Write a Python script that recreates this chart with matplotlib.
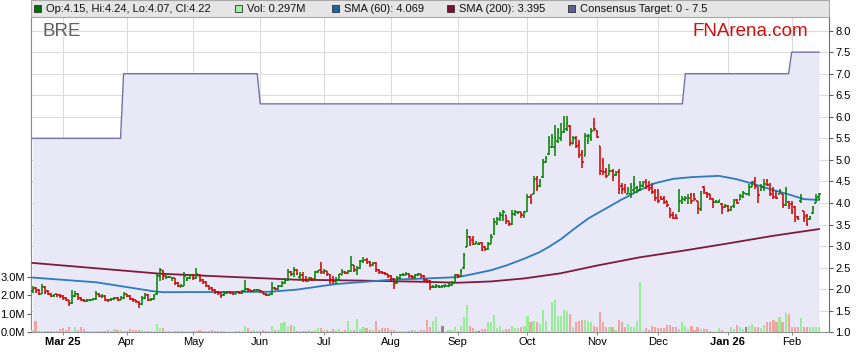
import numpy as np
import matplotlib.pyplot as plt
from matplotlib.patches import Rectangle

plt.rcParams['font.family'] = ['Liberation Sans', 'DejaVu Sans']

# daily bars, Feb 2025 - Feb 2026 (one entry per trading day)
opens = [
    1.95, 2.02, 1.98, 1.90, 2.05, 1.95, 1.90, 1.85, 1.88, 1.86,
    1.84, 1.80, 1.74, 1.68, 1.85, 1.90, 1.80, 1.76, 1.72, 1.74,
    1.76, 1.78, 1.90, 1.83, 1.85, 1.76, 1.74, 1.77, 1.80, 1.76,
    1.80, 1.88, 1.84, 1.78, 1.74, 1.70, 1.66, 1.80, 1.86, 1.75,
    1.78, 1.88, 2.30, 2.42, 2.26, 2.28, 2.27, 2.25, 2.14, 2.06,
    2.08, 2.22, 2.25, 2.33, 2.26, 2.33, 2.22, 2.16, 2.08, 2.02,
    1.98, 1.94, 1.92, 1.86, 1.91, 1.94, 1.92, 1.90, 1.93, 1.92,
    1.96, 2.00, 1.97, 1.96, 1.97, 1.98, 1.94, 1.90, 1.87, 1.88,
    2.03, 2.00, 2.07, 2.15, 2.22, 2.40, 2.35, 2.45, 2.28, 2.32,
    2.22, 2.20, 2.25, 2.24, 2.40, 2.44, 2.38, 2.42, 2.34, 2.22,
    2.18, 2.22, 2.34, 2.40, 2.38, 2.42, 2.55, 2.45, 2.50, 2.64,
    2.68, 2.62, 2.56, 2.60, 2.45, 2.40, 2.38, 2.35, 2.30, 2.24,
    2.15, 2.25, 2.33, 2.34, 2.36, 2.30, 2.28, 2.33, 2.35, 2.30,
    2.22, 2.20, 2.04, 2.05, 2.04, 2.07, 2.06, 2.08, 2.10, 2.15,
    2.34, 2.30, 2.50, 2.97, 3.22, 3.15, 3.06, 3.06, 3.08, 2.98,
    2.93, 3.05, 3.28, 3.52, 3.60, 3.70, 3.73, 3.58, 3.52, 3.75,
    3.76, 3.78, 3.70, 3.82, 4.15, 4.22, 4.55, 4.40, 4.60, 4.95,
    5.13, 5.30, 5.30, 5.45, 5.50, 5.65, 5.72, 5.78, 5.38, 5.50,
    5.35, 5.15, 5.10, 5.45, 5.50, 5.85, 5.66, 5.32, 4.95, 4.75,
    4.66, 4.75, 4.64, 4.72, 4.40, 4.32, 4.22, 4.20, 4.30, 4.34,
    4.30, 4.40, 4.48, 4.40, 4.35, 4.28, 4.25, 4.15, 4.12, 4.05,
    3.88, 3.72, 3.70, 3.82, 4.00, 4.08, 4.00, 4.20, 4.18, 4.05,
    3.85, 4.38, 4.24, 4.20, 4.10, 4.02, 4.02, 3.97, 3.90, 3.92,
    3.84, 3.92, 4.08, 4.08, 4.14, 4.22, 4.20, 4.38, 4.50, 4.36,
    4.30, 4.35, 4.52, 4.45, 4.28, 4.20, 4.20, 4.20, 3.95, 4.02,
    3.98, 3.90, 3.68, 4.05, 3.82, 3.70, 3.62, 3.76, 4.00, 4.15,
]
highs = [
    2.08, 2.05, 2.00, 2.12, 2.08, 1.98, 1.92, 1.90, 1.90, 1.88,
    1.86, 1.82, 1.76, 1.98, 1.95, 1.92, 1.82, 1.78, 1.78, 1.78,
    1.80, 1.95, 1.92, 1.88, 1.86, 1.78, 1.80, 1.83, 1.81, 1.84,
    1.93, 1.90, 1.86, 1.80, 1.76, 1.72, 1.84, 1.92, 1.88, 1.80,
    1.88, 2.35, 2.50, 2.44, 2.32, 2.30, 2.29, 2.26, 2.16, 2.12,
    2.40, 2.28, 2.36, 2.35, 2.50, 2.35, 2.24, 2.18, 2.10, 2.05,
    2.00, 1.96, 1.94, 1.96, 1.95, 1.95, 1.94, 1.96, 1.95, 1.98,
    2.22, 2.02, 1.99, 2.00, 2.00, 1.99, 1.96, 1.91, 1.90, 2.16,
    2.05, 2.10, 2.18, 2.26, 2.48, 2.42, 2.52, 2.46, 2.39, 2.39,
    2.30, 2.28, 2.27, 2.43, 2.45, 2.62, 2.46, 2.43, 2.35, 2.30,
    2.28, 2.36, 2.46, 2.42, 2.44, 2.78, 2.57, 2.53, 2.67, 2.75,
    2.72, 2.66, 2.63, 2.62, 2.46, 2.42, 2.40, 2.36, 2.32, 2.26,
    2.30, 2.36, 2.37, 2.40, 2.38, 2.32, 2.36, 2.38, 2.36, 2.32,
    2.24, 2.22, 2.10, 2.12, 2.10, 2.10, 2.12, 2.14, 2.20, 2.35,
    2.36, 2.47, 2.85, 3.39, 3.24, 3.24, 3.12, 3.10, 3.10, 3.01,
    3.09, 3.28, 3.66, 3.68, 3.78, 3.83, 3.73, 3.59, 3.83, 3.83,
    3.82, 3.80, 3.82, 4.20, 4.20, 4.62, 4.62, 4.55, 5.01, 5.09,
    5.55, 5.60, 5.82, 5.74, 5.86, 6.01, 6.01, 5.80, 5.55, 5.55,
    5.47, 5.24, 5.63, 5.59, 5.74, 5.98, 5.70, 5.32, 5.05, 4.82,
    4.90, 4.78, 4.75, 4.78, 4.47, 4.43, 4.36, 4.47, 4.63, 4.40,
    4.51, 4.51, 4.55, 4.51, 4.47, 4.32, 4.32, 4.17, 4.17, 4.05,
    3.89, 3.78, 3.75, 4.32, 4.16, 4.16, 4.20, 4.24, 4.24, 4.05,
    4.28, 4.40, 4.26, 4.22, 4.12, 4.08, 4.08, 3.99, 3.98, 3.95,
    3.94, 4.09, 4.09, 4.20, 4.28, 4.24, 4.43, 4.52, 4.60, 4.36,
    4.43, 4.55, 4.55, 4.47, 4.36, 4.28, 4.32, 4.20, 4.36, 4.05,
    4.05, 3.93, 3.70, 4.20, 3.82, 3.74, 3.70, 3.93, 4.20, 4.24,
]
lows = [
    1.92, 1.92, 1.87, 1.88, 1.88, 1.86, 1.82, 1.83, 1.83, 1.80,
    1.76, 1.72, 1.62, 1.66, 1.82, 1.76, 1.72, 1.70, 1.70, 1.72,
    1.74, 1.76, 1.82, 1.80, 1.72, 1.70, 1.72, 1.75, 1.73, 1.74,
    1.78, 1.82, 1.75, 1.70, 1.68, 1.56, 1.64, 1.78, 1.72, 1.73,
    1.76, 1.86, 2.20, 2.22, 2.24, 2.25, 2.20, 2.10, 2.05, 2.05,
    2.07, 2.20, 2.24, 2.22, 2.24, 2.16, 2.12, 2.04, 1.98, 1.95,
    1.88, 1.86, 1.80, 1.84, 1.88, 1.88, 1.87, 1.88, 1.88, 1.90,
    1.94, 1.94, 1.94, 1.94, 1.95, 1.92, 1.88, 1.85, 1.85, 1.87,
    1.98, 1.99, 2.05, 2.12, 2.20, 2.30, 2.28, 2.32, 2.20, 2.16,
    2.16, 2.18, 2.20, 2.22, 2.38, 2.35, 2.36, 2.30, 2.12, 2.12,
    2.12, 2.20, 2.32, 2.36, 2.36, 2.40, 2.40, 2.32, 2.48, 2.60,
    2.58, 2.52, 2.54, 2.40, 2.36, 2.35, 2.32, 2.27, 2.20, 2.01,
    2.12, 2.24, 2.30, 2.32, 2.26, 2.24, 2.24, 2.30, 2.26, 2.20,
    2.14, 1.97, 2.02, 2.03, 2.02, 2.03, 2.04, 2.06, 2.08, 2.14,
    2.26, 2.28, 2.47, 2.97, 3.01, 3.02, 3.04, 3.03, 2.89, 2.89,
    2.90, 3.04, 3.26, 3.50, 3.58, 3.59, 3.51, 3.47, 3.50, 3.70,
    3.74, 3.66, 3.66, 3.80, 3.97, 4.20, 4.28, 4.38, 4.58, 4.93,
    5.12, 5.28, 5.09, 5.40, 5.43, 5.63, 5.66, 5.32, 5.36, 5.28,
    5.05, 4.82, 5.09, 5.36, 5.43, 5.66, 5.50, 4.66, 4.66, 4.59,
    4.64, 4.51, 4.62, 4.20, 4.20, 4.24, 4.20, 4.12, 4.24, 4.24,
    4.28, 4.36, 4.32, 4.28, 4.20, 4.05, 4.01, 4.08, 3.97, 3.90,
    3.66, 3.62, 3.62, 3.80, 3.97, 4.05, 3.97, 3.97, 4.05, 3.74,
    3.82, 4.20, 4.12, 4.08, 3.89, 4.00, 4.00, 3.74, 3.88, 3.78,
    3.82, 3.89, 3.97, 4.06, 4.12, 4.20, 4.16, 4.36, 4.32, 4.01,
    4.28, 4.28, 4.39, 4.16, 4.09, 4.09, 4.20, 3.89, 3.93, 3.86,
    3.74, 3.55, 3.60, 4.01, 3.55, 3.47, 3.60, 3.74, 4.00, 4.07,
]
closes = [
    2.00, 1.95, 1.90, 2.05, 1.93, 1.90, 1.85, 1.87, 1.86, 1.84,
    1.80, 1.75, 1.66, 1.85, 1.90, 1.80, 1.75, 1.72, 1.75, 1.76,
    1.78, 1.90, 1.85, 1.85, 1.75, 1.74, 1.77, 1.80, 1.76, 1.80,
    1.87, 1.85, 1.78, 1.74, 1.72, 1.66, 1.80, 1.88, 1.75, 1.78,
    1.85, 2.30, 2.45, 2.30, 2.28, 2.29, 2.27, 2.15, 2.07, 2.07,
    2.30, 2.25, 2.32, 2.26, 2.35, 2.22, 2.16, 2.08, 2.00, 1.98,
    1.93, 1.92, 1.85, 1.92, 1.93, 1.92, 1.91, 1.93, 1.92, 1.96,
    2.00, 1.97, 1.96, 1.97, 1.98, 1.95, 1.90, 1.87, 1.88, 2.03,
    2.00, 2.07, 2.15, 2.22, 2.40, 2.35, 2.45, 2.35, 2.32, 2.22,
    2.20, 2.25, 2.22, 2.40, 2.42, 2.40, 2.42, 2.35, 2.22, 2.18,
    2.22, 2.35, 2.40, 2.38, 2.42, 2.55, 2.45, 2.50, 2.65, 2.68,
    2.62, 2.58, 2.60, 2.45, 2.40, 2.38, 2.35, 2.30, 2.25, 2.15,
    2.25, 2.33, 2.35, 2.36, 2.30, 2.28, 2.33, 2.35, 2.30, 2.22,
    2.20, 2.05, 2.05, 2.08, 2.06, 2.07, 2.08, 2.10, 2.15, 2.33,
    2.30, 2.42, 2.80, 3.30, 3.10, 3.05, 3.08, 3.06, 2.92, 2.93,
    3.05, 3.20, 3.55, 3.62, 3.72, 3.78, 3.58, 3.52, 3.75, 3.78,
    3.78, 3.72, 3.78, 4.15, 4.02, 4.52, 4.35, 4.50, 4.95, 5.05,
    5.45, 5.50, 5.50, 5.65, 5.60, 5.80, 5.85, 5.40, 5.50, 5.32,
    5.12, 4.95, 5.55, 5.55, 5.68, 5.72, 5.52, 4.75, 4.72, 4.62,
    4.74, 4.60, 4.68, 4.32, 4.30, 4.26, 4.30, 4.38, 4.45, 4.38,
    4.42, 4.45, 4.35, 4.32, 4.25, 4.12, 4.05, 4.10, 4.02, 3.95,
    3.72, 3.66, 3.65, 4.05, 4.10, 4.12, 4.12, 4.05, 4.10, 3.88,
    4.25, 4.30, 4.18, 4.12, 4.02, 4.05, 4.06, 3.88, 3.95, 3.84,
    3.90, 4.02, 4.00, 4.16, 4.24, 4.22, 4.38, 4.48, 4.40, 4.18,
    4.38, 4.45, 4.42, 4.22, 4.15, 4.12, 4.28, 3.95, 4.30, 3.92,
    3.80, 3.62, 3.64, 4.12, 3.65, 3.52, 3.68, 3.88, 4.12, 4.22,
]
# volume in millions of shares
volumes = [
    0.14, 0.60, 0.05, 0.05, 0.05, 0.06, 0.09, 0.09, 0.05, 0.18,
    0.23, 0.13, 0.27, 0.08, 0.30, 0.10, 0.27, 0.16, 0.09, 0.06,
    0.09, 0.05, 0.09, 0.06, 0.09, 0.13, 0.05, 0.18, 0.13, 0.13,
    0.08, 0.09, 0.18, 0.13, 0.13, 0.13, 0.13, 0.09, 0.09, 0.09,
    0.07, 0.45, 0.23, 0.23, 0.09, 0.06, 0.04, 0.09, 0.09, 0.09,
    0.05, 0.09, 0.07, 0.05, 0.05, 0.14, 0.06, 0.05, 0.09, 0.13,
    0.09, 0.09, 0.05, 0.05, 0.04, 0.04, 0.04, 0.05, 0.05, 0.07,
    0.36, 0.23, 0.09, 0.13, 0.09, 0.07, 0.13, 0.09, 0.07, 0.36,
    0.13, 0.14, 0.49, 0.54, 0.27, 0.41, 0.36, 0.09, 0.05, 0.09,
    0.09, 0.13, 0.08, 0.13, 0.23, 0.23, 0.14, 0.13, 0.09, 0.16,
    0.13, 0.18, 0.09, 0.10, 0.63, 0.13, 0.13, 0.72, 0.18, 0.27,
    0.23, 0.14, 0.10, 0.63, 0.13, 0.22, 0.23, 0.23, 0.13, 0.11,
    0.09, 0.09, 0.09, 0.09, 0.09, 0.13, 0.13, 0.09, 0.10, 0.13,
    0.68, 0.30, 0.63, 0.85, 0.09, 0.36, 0.04, 0.14, 0.14, 0.30,
    0.09, 0.36, 0.81, 1.50, 0.36, 0.22, 0.13, 0.09, 0.16, 0.16,
    0.54, 0.58, 0.95, 0.23, 0.36, 0.13, 0.20, 0.20, 0.36, 0.22,
    0.25, 0.27, 0.32, 0.86, 0.58, 0.60, 0.58, 0.45, 1.20, 0.60,
    0.09, 1.66, 1.77, 0.90, 0.90, 1.20, 1.13, 0.99, 0.30, 0.54,
    0.60, 0.68, 0.68, 0.60, 0.58, 0.36, 0.27, 1.08, 0.54, 0.30,
    0.27, 0.27, 0.14, 0.68, 0.54, 0.27, 0.45, 0.27, 0.27, 0.60,
    2.74, 0.09, 0.23, 0.14, 0.36, 0.27, 0.22, 0.22, 0.22, 0.41,
    0.41, 0.27, 0.30, 0.18, 0.58, 0.36, 0.18, 0.36, 0.13, 0.27,
    0.18, 0.18, 0.18, 0.09, 0.02, 0.02, 0.23, 0.14, 0.03, 0.03,
    0.27, 0.18, 0.41, 0.30, 0.18, 0.30, 0.34, 0.45, 0.27, 0.27,
    0.23, 0.41, 0.54, 0.54, 0.67, 0.54, 0.81, 0.54, 1.05, 0.99,
    0.27, 0.27, 0.27, 0.76, 0.30, 0.27, 0.30, 0.30, 0.30, 0.297,
]

# moving averages, read at points along the curves (bar index, value)
sma60_idx = [0, 21, 31, 40, 43, 78, 87, 100, 111, 118, 130, 140, 145, 151, 156, 162, 167, 170,
             174, 178, 183, 189, 194, 200, 205, 211, 217, 226, 232, 238, 243, 249, 254, 259]
sma60_val = [2.27, 2.16, 2.05, 1.95, 1.93, 1.94, 1.99, 2.12, 2.18, 2.22, 2.25, 2.28, 2.35, 2.44, 2.55, 2.71, 2.86, 2.98,
             3.16, 3.38, 3.64, 3.88, 4.08, 4.30, 4.46, 4.56, 4.60, 4.63, 4.55, 4.43, 4.32, 4.20, 4.09, 4.069]
sma200_idx = [0, 42, 64, 87, 108, 130, 140, 151, 162, 174, 186, 200, 214, 228, 244, 259]
sma200_val = [2.61, 2.36, 2.29, 2.22, 2.20, 2.17, 2.15, 2.18, 2.25, 2.37, 2.55, 2.74, 2.89, 3.05, 3.24, 3.395]

# consensus target: bar where each level starts
target_start = [0, 30, 75, 215, 250]
target_level = [5.5, 7.0, 6.3, 7.0, 7.5]

month_pos = [10, 31, 53, 75, 96, 118, 140, 163, 186, 206, 229, 250]
month_labels = ['Mar 25', 'Apr', 'May', 'Jun', 'Jul', 'Aug', 'Sep', 'Oct', 'Nov', 'Dec', 'Jan 26', 'Feb']

o = np.array(opens)
h = np.array(highs)
lo = np.array(lows)
c = np.array(closes)
v = np.array(volumes)
n = len(c)
idx = np.arange(n)
target = np.repeat(target_level, np.diff(target_start + [n]))

W, H = 859, 363
fig = plt.figure(figsize=(W / 100, H / 100), dpi=100)
left, right, top, bottom = 31, 829, 17, 332.3
ax = fig.add_axes([left / W, 1 - bottom / H, (right - left) / W, (bottom - top) / H])
step = (819 - 32.5) / (n - 1)
ax.set_xlim(-(32.5 - left) / step, (right - 32.5) / step)
ax.set_ylim(1.0, 1.0 + (bottom - top) / 43.1)

ax.set_axisbelow(True)
ax.grid(True, color='#DCDCDC', lw=0.8)

ax.fill_between(idx, target, 1.0, color='#E8E8F6', lw=0, zorder=1)
ax.plot(idx, target, color='#7272A6', lw=1.0, zorder=2)

ax.plot(sma200_idx, sma200_val, color='#7E1A3C', lw=1.3, zorder=3)
ax.plot(sma60_idx, sma60_val, color='#2C7BC0', lw=1.3, zorder=3)

up = c >= o
bar_col = np.where(up, '#008000', '#D20000')
ax.vlines(idx, lo, h, colors=bar_col, lw=1.1, zorder=4)
ax.hlines(o, idx - 0.5, idx, colors=bar_col, lw=1.1, zorder=4)
ax.hlines(c, idx, idx + 0.5, colors=bar_col, lw=1.1, zorder=4)

# volume on its own scale, labels on the left
axv = ax.twinx()
axv.set_ylim(0, (bottom - top) / 18.45)
vol_col = np.where(c > o, '#98EE98', np.where(c < o, '#F4A3A3', '#8A8A8A'))
axv.bar(idx, v, width=0.7, color=vol_col, lw=0, zorder=2)
axv.yaxis.set_ticks_position('left')
axv.set_yticks([0, 1, 2, 3])
axv.set_yticklabels([f'{t:.1f}M' for t in [0, 1, 2, 3]])
axv.tick_params(axis='y', length=3, width=0.8, color='#606060', labelsize=8, pad=1.5)
for s in axv.spines.values():
    s.set_visible(False)

ax.yaxis.tick_right()
ax.set_yticks(np.arange(1.0, 8.01, 0.5))
ax.yaxis.set_major_formatter(plt.FormatStrFormatter('%.1f'))
ax.tick_params(axis='y', length=3, width=0.8, color='#606060', labelsize=8, pad=1.5)
ax.set_xticks(month_pos)
ax.set_xticklabels(month_labels)
ax.tick_params(axis='x', length=2, width=0.8, color='#909090', labelsize=8, pad=1.5)
for lab in ax.get_xticklabels():
    if ' ' in lab.get_text():
        lab.set_fontweight('bold')

ax.spines['top'].set_visible(False)
ax.spines['left'].set_color('#8A8A8A')
ax.spines['right'].set_color('#707070')
ax.spines['bottom'].set_color('#909090')

# header strip with legend
fig.add_artist(Rectangle((left / W, 1 - top / H), (right - left) / W, top / H,
                         transform=fig.transFigure, facecolor='#E5E5E5',
                         edgecolor='#A8A8A8', lw=0.8))
legend = [
    (34, '#007000', f'Op:{opens[-1]:.2f}, Hi:{highs[-1]:.2f}, Lo:{lows[-1]:.2f}, Cl:{closes[-1]:.2f}'),
    (235, '#A0F0A0', f'Vol: {volumes[-1]:.3f}M'),
    (332, '#1F63A0', f'SMA (60): {sma60_val[-1]:.3f}'),
    (447, '#7B1232', f'SMA (200): {sma200_val[-1]:.3f}'),
    (568, '#5E5E92', 'Consensus Target: 0 - 7.5'),
]
for x, col, txt in legend:
    fig.add_artist(Rectangle((x / W, 1 - 12 / H), 7 / W, 7 / H, transform=fig.transFigure,
                             facecolor=col, edgecolor='#303030', lw=0.6))
    fig.text((x + 12) / W, 1 - 8.5 / H, txt, fontsize=8, va='center', color='#111111')

fig.text(42 / W, 1 - 32 / H, 'BRE', fontsize=13.5, color='#5F5F5F', va='center')
fig.text(692 / W, 1 - 31 / H, 'FNArena.com', fontsize=13.5, color='#D01010', va='center')

fig.savefig('out.png', dpi=100)
